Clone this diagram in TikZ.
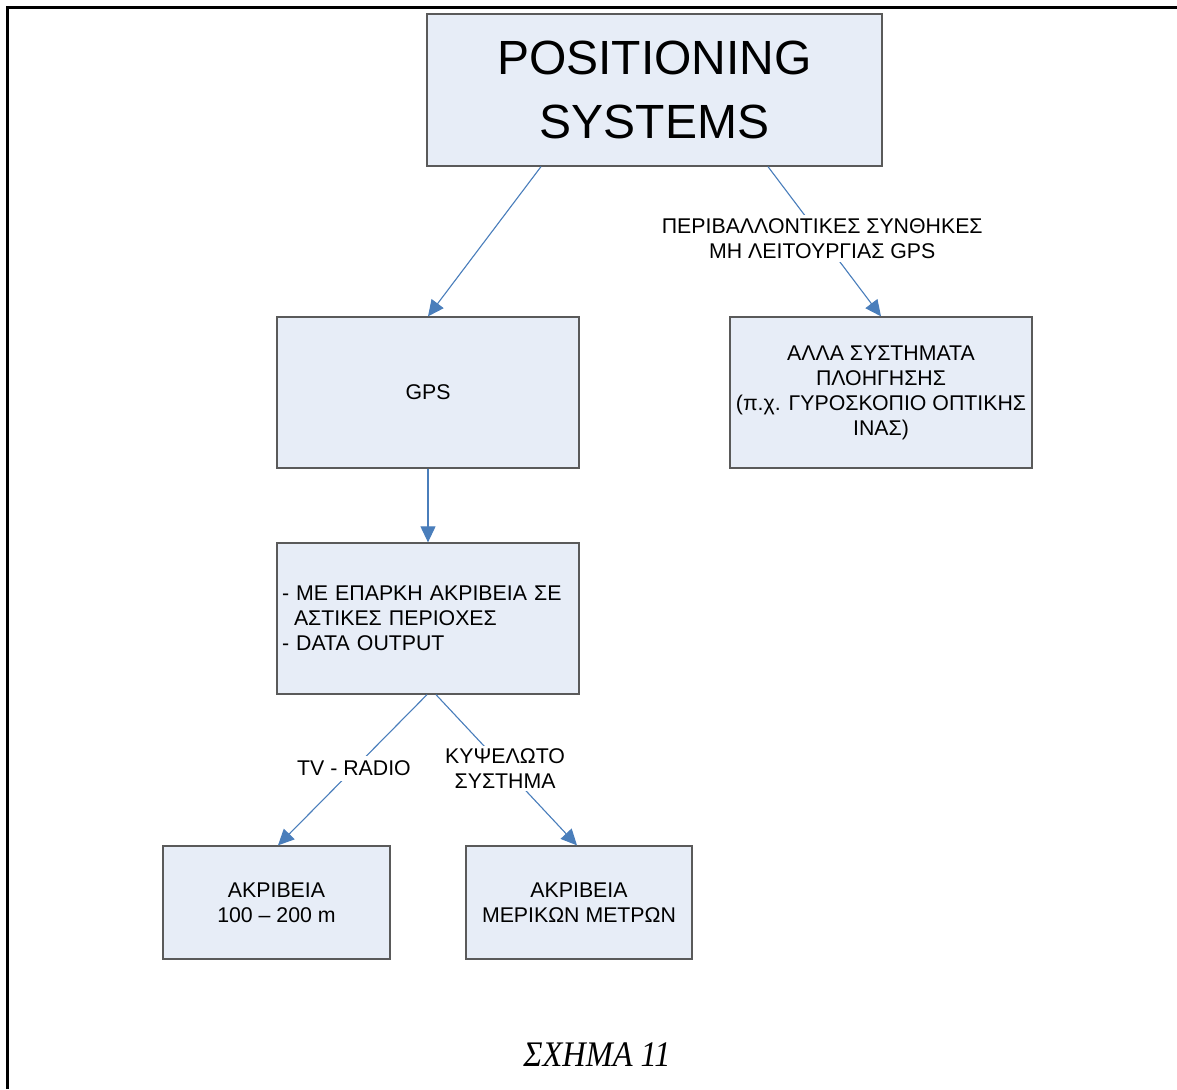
\documentclass[tikz,border=0pt]{standalone}
\usepackage{fontspec}
\setmainfont{Liberation Sans}
\newfontfamily\capfont{Liberation Serif}
\usetikzlibrary{arrows.meta}
\definecolor{boxfill}{HTML}{E7EDF7}
\definecolor{boxline}{HTML}{5A5A5A}
\definecolor{arrblue}{HTML}{4A7EBB}
\tikzset{
  box/.style={draw=boxline, line width=1.3pt, fill=boxfill, align=center,
    inner sep=4pt, font=\fontsize{21.3}{25}\selectfont},
  arr/.style={draw=arrblue, line width=1.1pt, -{Triangle[length=16pt,width=15pt]}, fill=arrblue},
  lbl/.style={fill=white, align=center, inner sep=3pt, text=black,
    font=\fontsize{21.3}{25}\selectfont}
}
\begin{document}
\begin{tikzpicture}[x=1pt,y=-1pt]
\useasboundingbox (0,0) rectangle (1177,1089);
% page frame
\draw[line width=2.5pt] (7.5,1089) -- (7.5,7.5) -- (1177,7.5);

\node[box, minimum width=455pt, minimum height=152pt,
  font=\fontsize{48}{64}\selectfont] (top) at (654.5,90) {POSITIONING\\SYSTEMS};
\node[box, minimum width=302pt, minimum height=151pt] (gps) at (428,392.5) {GPS};
\node[box, minimum width=302pt, minimum height=151pt] (other) at (881,392.5)
  {ΑΛΛΑ ΣΥΣΤΗΜΑΤΑ\\ΠΛΟΗΓΗΣΗΣ\\(π.χ. ΓΥΡΟΣΚΟΠΙΟ ΟΠΤΙΚΗΣ\\ΙΝΑΣ)};
\node[box, minimum width=302pt, minimum height=151pt, align=left, text width=292pt] (acc) at (428,618.5)
  {- ΜΕ ΕΠΑΡΚΗ ΑΚΡΙΒΕΙΑ ΣΕ\\\hspace*{12pt}ΑΣΤΙΚΕΣ ΠΕΡΙΟΧΕΣ\\- DATA OUTPUT};
\node[box, minimum width=227pt, minimum height=113pt] (tv) at (276.5,902.5)
  {ΑΚΡΙΒΕΙΑ\\100 – 200 m};
\node[box, minimum width=226pt, minimum height=113pt] (cell) at (579,902.5)
  {ΑΚΡΙΒΕΙΑ\\ΜΕΡΙΚΩΝ ΜΕΤΡΩΝ};

\draw[arr] ([xshift=-113.5pt]top.south) -- (gps.north);
\draw[arr] ([xshift=113.5pt]top.south) -- node[lbl, pos=0.48]
  {ΠΕΡΙΒΑΛΛΟΝΤΙΚΕΣ ΣΥΝΘΗΚΕΣ\\ΜΗ ΛΕΙΤΟΥΡΓΙΑΣ GPS} (other.north);
\draw[arr] (gps.south) -- (acc.north);
\draw[arr] ([xshift=-1pt]acc.south) -- node[lbl, pos=0.49, inner sep=5pt] {TV - RADIO} ([xshift=1.5pt]tv.north);
\draw[arr] ([xshift=8pt]acc.south) -- node[lbl, pos=0.49] {ΚΥΨΕΛΩΤΟ\\ΣΥΣΤΗΜΑ} ([xshift=-2pt]cell.north);

\node[font=\capfont\itshape\fontsize{36}{40}\selectfont, xscale=0.9, inner sep=0pt] (cap) at (597,1055) {ΣΧΗΜΑ 11};
\end{tikzpicture}
\end{document}
